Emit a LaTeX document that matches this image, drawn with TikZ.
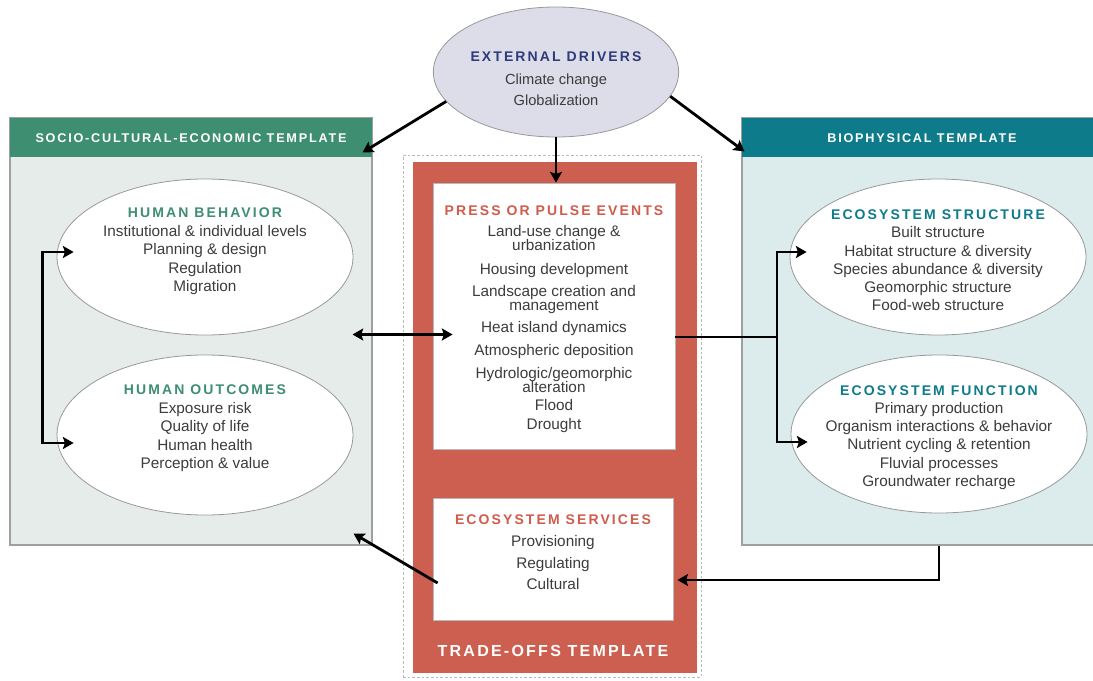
\documentclass[tikz,border=0pt]{standalone}
\usepackage{fontspec}
\setmainfont{Liberation Sans}
\newfontfamily\capsfont[LetterSpace=15]{Liberation Sans}
\newfontfamily\bandfont[LetterSpace=14]{Liberation Sans}
\usetikzlibrary{shapes.geometric,fit,arrows.meta}

\definecolor{socgreen}{HTML}{3E8E72}
\definecolor{socpale}{HTML}{E6ECE9}
\definecolor{bioteal}{HTML}{0E7B8B}
\definecolor{biopale}{HTML}{DCEBEC}
\definecolor{tradered}{HTML}{CC5F50}
\definecolor{pressred}{HTML}{D05C4B}
\definecolor{drivnavy}{HTML}{2D3A7C}
\definecolor{drivfill}{HTML}{DCDDE8}
\definecolor{bodytext}{HTML}{3C3C3C}

\newcommand\blocktitle[2]{{\capsfont\bfseries\fontsize{10.5}{12}\selectfont\color{#1}#2}}
\newcommand\tightlines{\lineskiplimit=-20pt\lineskip=0pt}

\begin{document}
\begin{tikzpicture}[x=0.75pt, y=-0.75pt, >={Stealth[length=8pt,width=9pt,inset=1.5pt]},
    arr/.style={line width=2.1pt, black},
    panel/.style={draw=gray!75, line width=0.8pt, inner sep=0pt},
    band/.style={inner sep=0pt, text=white, font=\bandfont\bfseries\fontsize{9.5}{11}\selectfont},
    oval/.style={ellipse, draw=gray!80, fill=white, line width=0.6pt,
      minimum width=222pt, minimum height=117pt, inner sep=0pt},
    items/.style={align=center, text=bodytext, font=\fontsize{11.5}{13.9}\selectfont},
    whitebox/.style={fill=white, draw=gray!55, line width=0.6pt, inner sep=0pt}]

  \fill[white] (0,0) rectangle (1093,681);
  \useasboundingbox (0,0) rectangle (1093,681);

  % trade-offs column in the middle
  \node[draw=gray!55, dash pattern=on 2pt off 1.5pt, line width=0.6pt, inner sep=0pt,
    fit={(403,155) (701,677)}] (trade) {};
  \node[fill=tradered, inner sep=0pt, fit={(413,162) (697,673)}] (tradeR) {};
  \node[band, font=\bandfont\bfseries\fontsize{12}{14}\selectfont] (tradeL) at (553,651)
    {TRADE-OFFS TEMPLATE};

  \node[whitebox, fit={(433,183) (675,449)}] (press) {};
  \node[items, font=\fontsize{11.5}{10.5}\selectfont\tightlines] (pressT) at (554,319)
    {\blocktitle{pressred}{PRESS OR PULSE EVENTS}\\[5.25pt]
     Land-use change \&\\ urbanization\\[7.5pt]
     Housing development\\[6pt]
     Landscape creation and\\ management\\[6pt]
     Heat island dynamics\\[6.75pt]
     Atmospheric deposition\\[6.75pt]
     Hydrologic/geomorphic\\ alteration\\[3pt]
     Flood\\[3.75pt]
     Drought};

  \node[whitebox, fit={(433,498) (673,620)}] (serv) {};
  \node[items, font=\fontsize{11.5}{16.3}\selectfont] (servT) at (553,552.5)
    {\blocktitle{pressred}{ECOSYSTEM SERVICES}\\ Provisioning\\ Regulating\\ Cultural};

  % left template
  \node[panel, fill=socpale, fit={(10,118) (372,545)}] (socio) {};
  \node[panel, draw=none, fill=socgreen, fit={(10,118) (372,157)}] (socioH) {};
  \node[band] (socioL) at (191,138) {SOCIO-CULTURAL-ECONOMIC TEMPLATE};
  \node[oval] (behav) at (205,257) {};
  \node[items] (behavT) at (205,251.5)
    {\blocktitle{socgreen}{HUMAN BEHAVIOR}\\ Institutional \& individual levels\\
     Planning \& design\\ Regulation\\ Migration};
  \node[oval, minimum height=120pt] (outc) at (205,435) {};
  \node[items] (outcT) at (205,428.5)
    {\blocktitle{socgreen}{HUMAN OUTCOMES}\\ Exposure risk\\ Quality of life\\
     Human health\\ Perception \& value};

  % right template
  \node[panel, fill=biopale, fit={(742,118) (1100,545)}] (bio) {};
  \node[panel, draw=none, fill=bioteal, fit={(742,118) (1100,157)}] (bioH) {};
  \node[band] (bioL) at (922,138) {BIOPHYSICAL TEMPLATE};
  \node[oval] (struct) at (938,257) {};
  \node[items, font=\fontsize{11.5}{13.7}\selectfont] (structT) at (938,260.5)
    {\blocktitle{bioteal}{ECOSYSTEM STRUCTURE}\\ Built structure\\
     Habitat structure \& diversity\\ Species abundance \& diversity\\
     Geomorphic structure\\ Food-web structure};
  \node[oval, minimum height=118.5pt] (func) at (939,434) {};
  \node[items, font=\fontsize{11.5}{13.7}\selectfont] (funcT) at (939,437.5)
    {\blocktitle{bioteal}{ECOSYSTEM FUNCTION}\\ Primary production\\
     Organism interactions \& behavior\\ Nutrient cycling \& retention\\
     Fluvial processes\\ Groundwater recharge};

  % drivers on top
  \node[oval, fill=drivfill, minimum width=184pt, minimum height=97.5pt] (ext) at (556,72) {};
  \node[items, font=\fontsize{11}{15.75}\selectfont] (extT) at (556,79)
    {\blocktitle{drivnavy}{EXTERNAL DRIVERS}\\[1.5pt] Climate change\\ Globalization};

  % connectors
  \draw[arr,->] (ext.195) -- ([xshift=-7.5pt,yshift=-26.25pt]socio.north east);
  \draw[arr,->] (ext.348) -- ([xshift=2.25pt,yshift=-25.5pt]bio.north west);
  \draw[arr,->] (ext.south) -- (ext.south |- press.north);
  \draw[arr,<->] ([xshift=-15pt,yshift=-2.25pt]socio.east) -- ++(100,0);

  \coordinate (fork) at (777,337);
  \draw[arr] ([yshift=-15.75pt]press.east) -- (fork);
  \draw[arr,->] (fork) |- ([xshift=12.75pt,yshift=3.75pt]struct.west);
  \draw[arr,->] (fork) |- ([xshift=12.75pt,yshift=-6pt]func.west);

  \draw[arr,<->] ([xshift=12.75pt,yshift=3.75pt]behav.west) -- ++(-31,0)
    |- ([xshift=12.75pt,yshift=-6pt]outc.west);

  \draw[arr,->] (func |- bio.south) |- ([xshift=3pt,yshift=-15.75pt]serv.east);
  \draw[arr,->] ([xshift=3.75pt,yshift=-18pt]serv.west)
    -- ([xshift=-14.25pt,yshift=9pt]socio.south east);
\end{tikzpicture}
\end{document}
